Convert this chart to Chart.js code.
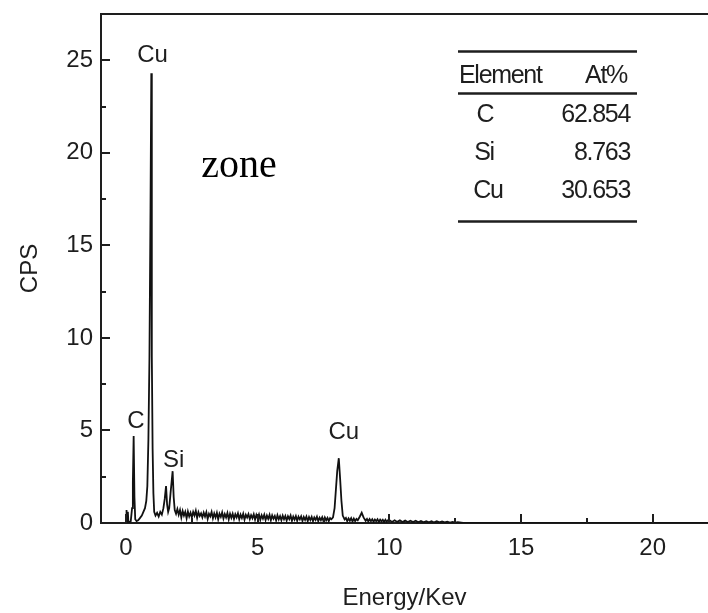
<!DOCTYPE html>
<html><head><meta charset="utf-8">
<script src="https://cdn.jsdelivr.net/npm/chart.js@4.4.1/dist/chart.umd.min.js"></script>
<style>html,body{margin:0;padding:0;background:#fff;}#wrap{width:708px;height:613px;}</style>
</head><body><div id="wrap"><canvas id="c" width="708" height="613"></canvas></div>
<script>
// ---- data ----
const energyKeV = [
 0.00,0.02,0.04,0.07,0.09,0.13,0.18,0.23,0.26,0.29,0.32,0.35,0.40,0.46,0.52,0.60,0.66,0.72,0.77,0.81,0.85,0.89,0.93,0.96,0.98,1.01,1.04,1.07,1.12,
 1.18,1.24,1.30,1.36,1.42,1.47,1.52,1.56,1.60,1.64,1.69,1.73,1.77,1.81,1.85,1.90,1.95,
 2.0,2.05,2.1,2.15,2.2,2.25,2.3,2.35,2.4,2.45,2.5,2.55,2.6,2.65,2.7,2.75,2.8,2.85,2.9,2.95,
 3.0,3.05,3.1,3.15,3.2,3.25,3.3,3.35,3.4,3.45,3.5,3.55,3.6,3.65,3.7,3.75,3.8,3.85,3.9,3.95,
 4.0,4.05,4.1,4.15,4.2,4.25,4.3,4.35,4.4,4.45,4.5,4.55,4.6,4.65,4.7,4.75,4.8,4.85,4.9,4.95,
 5.0,5.05,5.1,5.15,5.2,5.25,5.3,5.35,5.4,5.45,5.5,5.55,5.6,5.65,5.7,5.75,5.8,5.85,5.9,5.95,
 6.0,6.05,6.1,6.15,6.2,6.25,6.3,6.35,6.4,6.45,6.5,6.55,6.6,6.65,6.7,6.75,6.8,6.85,6.9,6.95,
 7.0,7.05,7.1,7.15,7.2,7.25,7.3,7.35,7.4,7.45,7.5,7.55,7.6,7.65,7.7,7.75,7.8,
 7.86,7.92,7.97,8.02,8.08,8.13,8.18,8.23,8.30,
 8.35,8.4,8.45,8.5,8.55,8.6,8.65,8.7,8.75,8.8,8.88,8.95,9.02,9.1,9.15,9.2,9.25,9.3,9.35,9.4,9.45,9.5,9.55,9.6,9.65,9.7,9.75,9.8,9.85,9.9,9.95,
 10.0,10.1,10.2,10.3,10.4,10.5,10.6,10.7,10.8,10.9,
 11.0,11.1,11.2,11.3,11.4,11.5,11.6,11.7,11.8,11.9,
 12.0,12.1,12.2,12.3,12.4,12.5,12.6,12.8,22.2
];
const cps = [
 0,0.7,0.05,0.6,0.05,0.05,0.1,0.8,2.2,4.7,1.4,0.2,0.1,0.15,0.25,0.4,0.6,0.8,1.2,2.0,4.5,9,17,24.3,9,4,1.6,0.6,0.4,
 0.55,0.35,0.6,0.45,0.8,1.3,2.0,1.0,0.6,0.8,1.6,2.2,2.8,1.4,0.7,0.5,0.75,
 0.45,0.7,0.3,0.65,0.4,0.6,0.25,0.62,0.35,0.55,0.3,0.6,0.4,0.66,0.28,0.58,0.38,0.52,0.3,0.56,
 0.35,0.58,0.22,0.5,0.36,0.6,0.25,0.52,0.3,0.55,0.2,0.5,0.33,0.57,0.24,0.48,0.3,0.54,0.2,0.5,
 0.28,0.5,0.22,0.47,0.3,0.52,0.2,0.45,0.27,0.5,0.18,0.44,0.3,0.48,0.21,0.42,0.26,0.47,0.18,0.44,
 0.25,0.46,0.17,0.42,0.24,0.45,0.16,0.4,0.22,0.44,0.15,0.41,0.23,0.38,0.14,0.42,0.2,0.37,0.15,0.4,
 0.2,0.38,0.13,0.36,0.21,0.4,0.12,0.35,0.18,0.37,0.12,0.34,0.2,0.36,0.11,0.33,0.17,0.35,0.1,0.32,
 0.16,0.33,0.1,0.3,0.17,0.34,0.1,0.29,0.15,0.31,0.09,0.3,0.14,0.28,0.1,0.27,0.2,
 0.3,0.8,1.8,2.8,3.5,2.4,1.2,0.4,0.2,
 0.28,0.1,0.25,0.12,0.26,0.08,0.24,0.1,0.22,0.15,0.35,0.55,0.3,0.12,0.22,0.08,0.21,0.1,0.2,0.07,0.19,0.1,0.2,0.06,0.18,0.09,0.17,0.05,0.18,0.07,0.16,
 0.16,0.06,0.15,0.06,0.14,0.05,0.13,0.05,0.12,0.05,
 0.12,0.04,0.11,0.04,0.1,0.04,0.1,0.03,0.09,0.03,
 0.08,0.03,0.07,0.02,0.06,0.02,0.04,0,0
];
const xTickValues = [0,5,10,15,20];
const xMinorTicks = [2.5,7.5,12.5,17.5];
const yTickValues = [0,5,10,15,20,25];
const yMinorTicks = [2.5,7.5,12.5,17.5,22.5];
const peakLabels = ['Cu','C','Si','Cu'];
const peakLabelX = [1.01,0.38,1.81,8.27];
const peakLabelY = [25.24,5.48,3.37,4.91];
const tableHeader = ['Element','At%'];
const tableElements = ['C','Si','Cu'];
const tableAtPct = ['62.854','8.763','30.653'];
const noteText = 'zone';

const INK = '#1e1e1e';
const SANS = '"Liberation Sans", Arial, sans-serif';

const decor = {
  id:'decor',
  afterDraw(chart){
    const {ctx, chartArea:a, scales:{x,y}} = chart;
    ctx.save();
    ctx.strokeStyle = INK;
    ctx.lineWidth = 2;
    ctx.beginPath(); ctx.moveTo(a.left, a.top); ctx.lineTo(a.right, a.top); ctx.stroke();
    const tick = (x1,y1,x2,y2)=>{ctx.beginPath();ctx.moveTo(x1,y1);ctx.lineTo(x2,y2);ctx.stroke();};
    xTickValues.forEach(v=>{const p=Math.round(x.getPixelForValue(v)); tick(p,a.bottom,p,a.bottom-9);});
    xMinorTicks.forEach(v=>{const p=Math.round(x.getPixelForValue(v)); tick(p,a.bottom,p,a.bottom-5);});
    yTickValues.forEach(v=>{const p=Math.round(y.getPixelForValue(v)); tick(a.left,p,a.left+9,p);});
    yMinorTicks.forEach(v=>{const p=Math.round(y.getPixelForValue(v)); tick(a.left,p,a.left+5,p);});
    ctx.fillStyle = INK;
    ctx.font = '24px ' + SANS;
    ctx.textAlign = 'center'; ctx.textBaseline = 'middle';
    peakLabels.forEach((t,i)=>ctx.fillText(t, x.getPixelForValue(peakLabelX[i]), y.getPixelForValue(peakLabelY[i])));
    ctx.font = '40px "Liberation Serif", "Times New Roman", serif';
    ctx.fillStyle = '#000';
    ctx.textAlign = 'center'; ctx.textBaseline = 'alphabetic';
    ctx.fillText(noteText, 239, 177);
    ctx.fillStyle = INK; ctx.strokeStyle = INK;
    const tl = 458, tr = 637;
    ctx.lineWidth = 2.5;
    [51.5, 93.5, 221.5].forEach(yy=>{ctx.beginPath();ctx.moveTo(tl,yy);ctx.lineTo(tr,yy);ctx.stroke();});
    ctx.font = '25px ' + SANS;
    ctx.letterSpacing = '-1.3px';
    ctx.textBaseline = 'middle';
    ctx.textAlign = 'left';
    ctx.fillText(tableHeader[0], 459, 76);
    ctx.textAlign = 'right';
    ctx.fillText(tableHeader[1], 627, 76);
    const rowsY = [115, 153, 191];
    const rowsX = [485, 484, 488];
    tableElements.forEach((el,i)=>{
      ctx.textAlign = 'center';
      ctx.fillText(el, rowsX[i], rowsY[i]);
      ctx.textAlign = 'right';
      ctx.fillText(tableAtPct[i], 630, rowsY[i]);
    });
    ctx.restore();
  }
};

const noPad = s=>{s.paddingTop=0;s.paddingBottom=0;s.paddingLeft=0;s.paddingRight=0;};

new Chart(document.getElementById('c'), {
  type:'line',
  data:{datasets:[{
    data: energyKeV.map((e,i)=>({x:e, y:cps[i]})),
    borderColor:'#111', borderWidth:1.8, pointRadius:0, tension:0, fill:false
  }]},
  options:{
    responsive:false, animation:false, devicePixelRatio:1,
    layout:{padding:{top:14,right:0,left:0,bottom:0}},
    plugins:{legend:{display:false}, tooltip:{enabled:false}},
    scales:{
      x:{
        type:'linear', min:-0.95, max:22.1,
        afterBuildTicks:s=>{s.ticks = xTickValues.map(v=>({value:v}));},
        afterFit:s=>{s.height = 90; noPad(s);},
        grid:{display:false},
        border:{display:true, color:INK, width:2},
        ticks:{font:{family:SANS, size:24}, color:INK, padding:3, maxRotation:0, autoSkip:false},
        title:{display:true, text:'Energy/Kev', font:{family:SANS, size:24}, color:INK, padding:{top:16,bottom:0}}
      },
      y:{
        type:'linear', min:0, max:27.5,
        afterBuildTicks:s=>{s.ticks = yTickValues.map(v=>({value:v}));},
        afterFit:s=>{s.width = 101; noPad(s);},
        grid:{display:false},
        border:{display:true, color:INK, width:2},
        ticks:{font:{family:SANS, size:24}, color:INK, padding:0, autoSkip:false},
        title:{display:true, text:'CPS', font:{family:SANS, size:24}, color:INK, padding:{top:16,bottom:0}}
      }
    }
  },
  plugins:[decor]
});
</script></body></html>
